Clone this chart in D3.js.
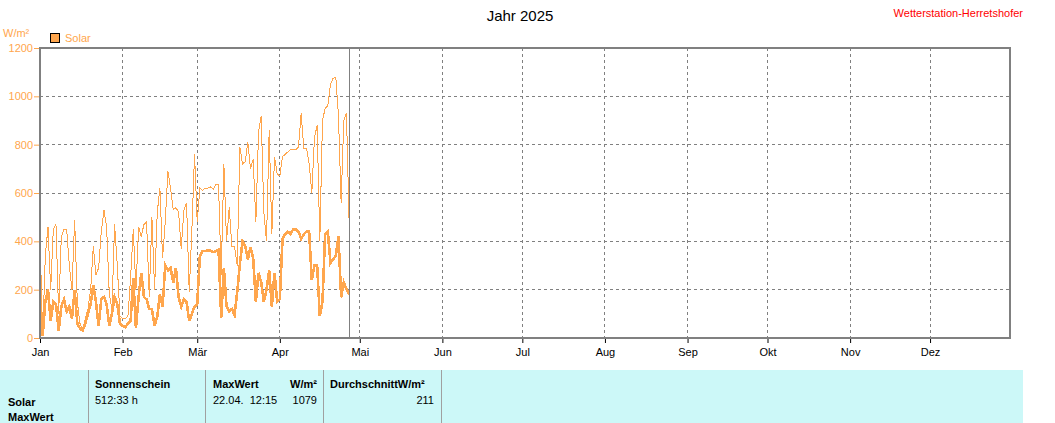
<!DOCTYPE html>
<html><head><meta charset="utf-8">
<script src="https://cdn.jsdelivr.net/npm/d3@7"></script>
<style>
body{margin:0;background:#fff}
svg{display:block;font-family:"Liberation Sans",Arial,sans-serif}
</style>
</head><body>
<svg id="c" width="1055" height="423"></svg>
<script>
// ---------- data ----------
const startDate = Date.UTC(2025, 0, 1);
const endDate = Date.UTC(2025, 11, 31);
const currentDate = Date.UTC(2025, 3, 27);
const monthLabels = ["Jan","Feb","Mär","Apr","Mai","Jun","Jul","Aug","Sep","Okt","Nov","Dez"];
const yTicks = [0, 200, 400, 600, 800, 1000, 1200];
// daily mean (thick line), from 1 Jan
const solarAvg = [
 190,10,150,200,70,150,140,30,130,160,110,130,80,200,60,40,30,60,100,140,220,150,50,160,170,140,50,100,170,140,60,
 50,45,60,70,250,40,170,270,170,160,120,120,50,90,180,130,300,280,290,230,290,170,130,160,150,70,100,130,
 140,340,360,360,362,362,355,360,365,85,290,130,110,120,95,190,305,400,380,325,375,330,150,270,230,150,200,280,130,270,150,
 160,410,430,440,430,450,450,440,410,430,440,440,240,300,300,90,150,430,440,310,326,340,422,168,230,203,180
];
// daily maximum (thin line), from 1 Jan
const solarMax = [
 415,10,340,460,200,450,470,100,420,450,450,300,200,490,150,60,30,80,120,200,380,260,290,440,530,460,180,120,470,300,90,
 80,80,90,250,450,200,460,420,470,480,170,500,200,520,620,330,480,690,620,530,540,520,370,530,560,190,450,760,
 480,620,610,620,620,625,615,635,635,260,720,400,540,380,380,300,790,720,730,810,700,740,480,850,920,520,400,860,430,750,680,
 670,750,760,770,780,780,780,790,930,785,785,720,600,830,880,400,900,950,960,1050,1075,1079,920,560,900,930,480
];
const tableCols = ["Sonnenschein", "MaxWert", "W/m²", "DurchschnittW/m²"];
const tableValues = ["512:33 h", "22.04.  12:15", "1079", "211"];
const rowLabels = ["Solar", "MaxWert"];

// ---------- layout ----------
const L = 40, R = 1010, T = 48, B = 338;
const orange = "#FFA64D", gray = "#808080";
const svg = d3.select("#c");
const dayMs = 86400000;

const x = d3.scaleUtc().domain([startDate, endDate]).range([L, R]);
const y = d3.scaleLinear().domain([0, 1200]).range([B, T]);
const months = d3.range(12).map(m => Date.UTC(2025, m, 1));

// grid
svg.append("g").selectAll("line").data(yTicks.filter(v => v > 0 && v < 1200)).join("line")
  .attr("x1", L).attr("x2", R).attr("y1", d => y(d)).attr("y2", d => y(d))
  .attr("stroke", gray).attr("stroke-dasharray", "3,3").attr("shape-rendering", "crispEdges");
svg.append("g").selectAll("line").data(months.slice(1)).join("line")
  .attr("x1", d => x(d)).attr("x2", d => x(d)).attr("y1", T).attr("y2", B)
  .attr("stroke", gray).attr("stroke-dasharray", "3,3").attr("shape-rendering", "crispEdges");

// lines
const line = d3.line().x((d, i) => x(startDate + i * dayMs)).y(d => y(d));
svg.append("path").attr("d", line(solarMax)).attr("fill", "none")
  .attr("stroke", orange).attr("stroke-width", 1).attr("shape-rendering", "crispEdges");
svg.append("path").attr("d", line(solarAvg)).attr("fill", "none")
  .attr("stroke", orange).attr("stroke-width", 2.6).attr("stroke-linejoin", "miter").attr("shape-rendering", "crispEdges");

// current date marker
svg.append("line").attr("x1", x(currentDate)).attr("x2", x(currentDate)).attr("y1", T).attr("y2", B)
  .attr("stroke", gray).attr("stroke-width", 1).attr("shape-rendering", "crispEdges");

// frame
svg.append("rect").attr("x", L).attr("y", T).attr("width", R - L).attr("height", B - T)
  .attr("fill", "none").attr("stroke", gray).attr("stroke-width", 2).attr("shape-rendering", "crispEdges");

// y axis
const ya = svg.append("g").attr("transform", `translate(${L - 1},0)`)
  .call(d3.axisLeft(y).tickValues(yTicks).tickSize(5).tickPadding(1).tickFormat(d3.format("d")));
ya.select(".domain").remove();
ya.selectAll("line").attr("stroke", orange);
ya.selectAll("text").attr("fill", orange).attr("font-size", 11).attr("font-family", "Liberation Sans, Arial");

// x axis
const xa = svg.append("g").attr("transform", `translate(0,${B + 1})`)
  .call(d3.axisBottom(x).tickValues(months).tickSize(4).tickPadding(5).tickFormat((d, i) => monthLabels[i]));
xa.select(".domain").remove();
xa.selectAll("line").attr("stroke", "#000");
xa.selectAll("text").attr("fill", "#000").attr("font-size", 11).attr("font-family", "Liberation Sans, Arial");

// titles
svg.append("text").attr("x", 520).attr("y", 21).attr("text-anchor", "middle")
  .attr("font-size", 15).text("Jahr 2025");
svg.append("text").attr("x", 1023).attr("y", 17).attr("text-anchor", "end")
  .attr("font-size", 11).attr("fill", "#ff0000").text("Wetterstation-Herretshofer");
svg.append("text").attr("x", 3).attr("y", 37).attr("font-size", 11).attr("fill", orange).text("W/m²");
svg.append("rect").attr("x", 50.5).attr("y", 33.5).attr("width", 9).attr("height", 9)
  .attr("fill", orange).attr("stroke", "#000").attr("stroke-width", 1);
svg.append("text").attr("x", 65).attr("y", 42).attr("font-size", 11).attr("fill", orange).text("Solar");

// table
const tb = svg.append("g");
tb.append("rect").attr("x", 0).attr("y", 370).attr("width", 1023).attr("height", 53).attr("fill", "#CCF8F8");
tb.selectAll("line.sep").data([88, 205, 323, 441]).join("line")
  .attr("x1", d => d + 0.5).attr("x2", d => d + 0.5).attr("y1", 370).attr("y2", 423)
  .attr("stroke", "#a0a0a0");
tb.selectAll("text.row").data(rowLabels).join("text")
  .attr("x", 8).attr("y", (d, i) => 406 + i * 15).attr("font-size", 11).attr("font-weight", "bold").text(d => d);
const hdr = [{t: tableCols[0], x: 95, a: "start"}, {t: tableCols[1], x: 213, a: "start"},
             {t: tableCols[2], x: 317, a: "end"}, {t: tableCols[3], x: 330, a: "start"}];
tb.selectAll("text.h").data(hdr).join("text")
  .attr("x", d => d.x).attr("y", 388).attr("text-anchor", d => d.a)
  .attr("font-size", 11).attr("font-weight", "bold").text(d => d.t);
const vals = [{t: tableValues[0], x: 95, a: "start"}, {t: tableValues[1], x: 213, a: "start"},
              {t: tableValues[2], x: 317, a: "end"}, {t: tableValues[3], x: 434, a: "end"}];
tb.selectAll("text.v").data(vals).join("text")
  .attr("x", d => d.x).attr("y", 404).attr("text-anchor", d => d.a)
  .attr("font-size", 11).attr("xml:space", "preserve").style("white-space", "pre").text(d => d.t);
</script>
</body></html>
